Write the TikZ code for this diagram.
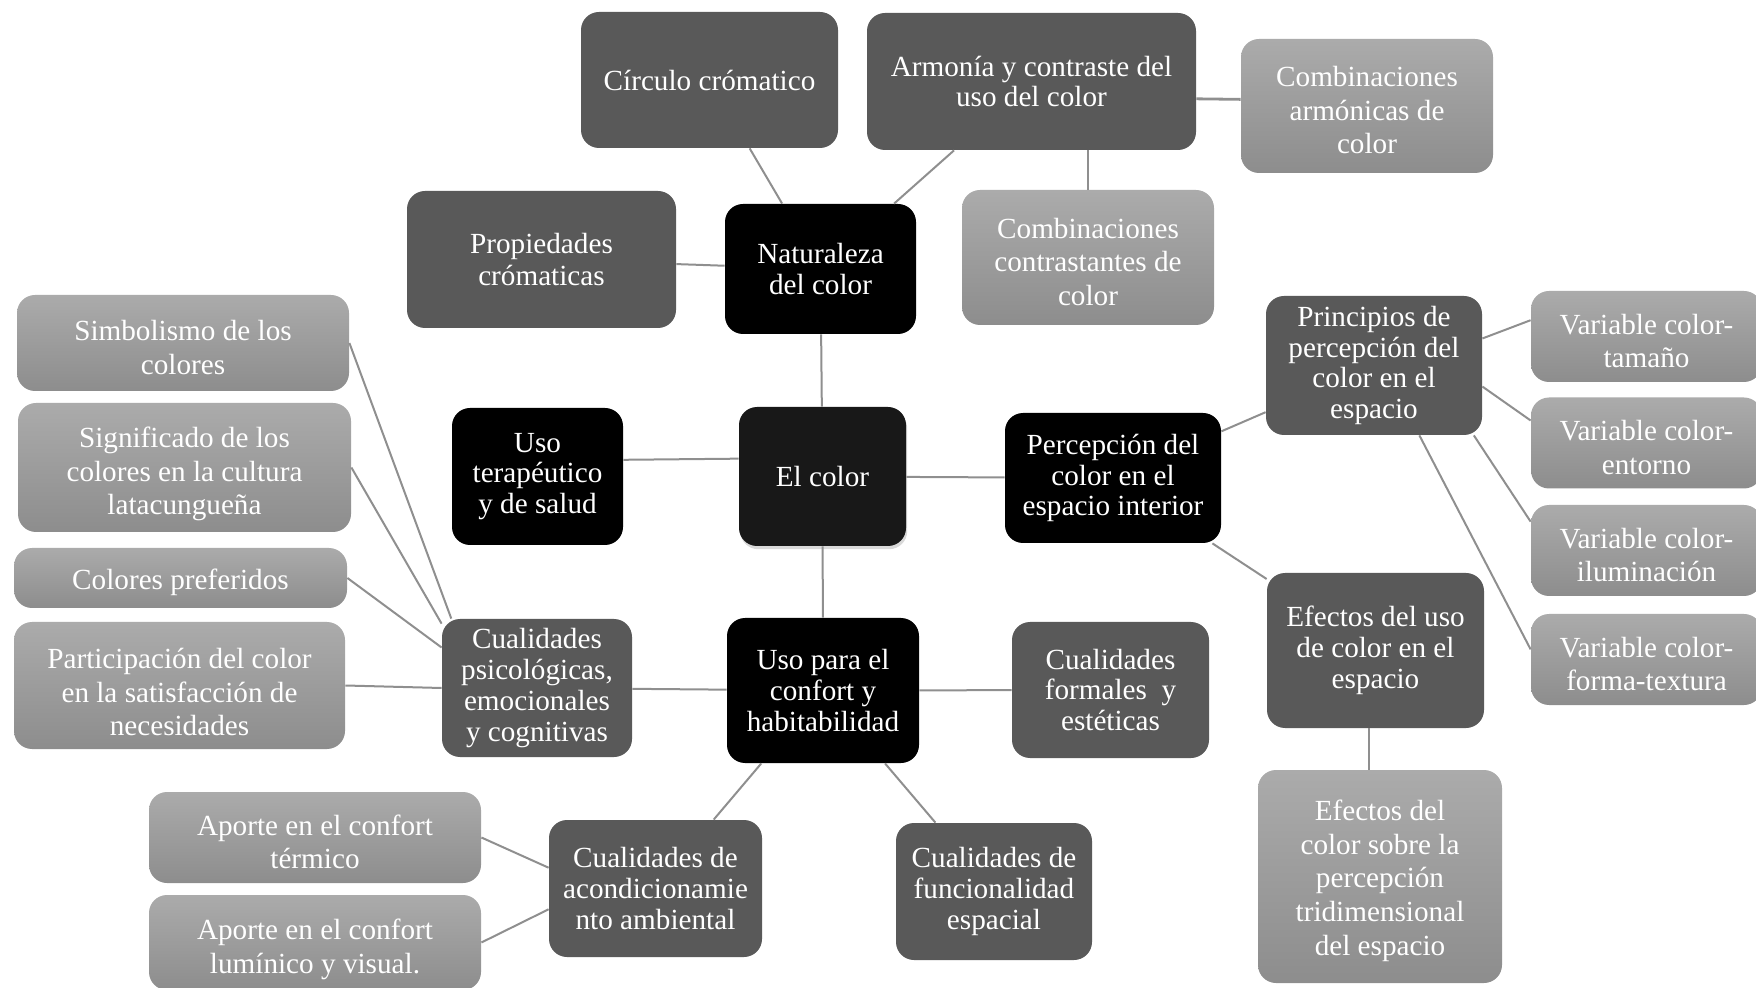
\documentclass[tikz,border=0pt]{standalone}
\usepackage{fontspec}
\setmainfont{Liberation Serif}
\usetikzlibrary{calc,shadows}

\definecolor{gris}{HTML}{595959}
\definecolor{claroA}{HTML}{ABABAB}
\definecolor{claroB}{HTML}{8D8D8D}
\definecolor{lineagris}{HTML}{8F8F8F}
\definecolor{casinegro}{HTML}{181818}

% baja un poco el texto de las cajas claras
\newcommand{\bj}[1][14.5pt]{\rule{0pt}{#1}}

\tikzset{
	caja/.style={rounded corners=9pt, align=center, text=white, inner sep=0pt,
		font=\fontsize{14.6}{15.4}\selectfont},
	tam/.style 2 args={minimum width=#1*0.5pt, minimum height=#2*0.5pt},
	negra/.style={caja, fill=black},
	oscura/.style={caja, fill=gris},
	clara/.style={caja, top color=claroA, bottom color=claroB,
		font=\fontsize{14.6}{16.8}\selectfont},
	linea/.style={draw=lineagris, line width=1pt},
}

\begin{document}
\begin{tikzpicture}[x=0.5pt,y=-0.5pt] % mapa del color
			\useasboundingbox (0,0) rectangle (1756,988);
			\clip (0,0) rectangle (1756,988);

			\node[negra, fill=casinegro, tam={167}{139},
				drop shadow={opacity=0.3, shadow xshift=0.6pt, shadow yshift=-1.6pt}]
				(ecolor) at (822.5,476.5) {El color};

			\node[oscura, tam={257}{136}] (circ) at (709.5,80) {Círculo crómatico};
			\node[oscura, tam={329}{137}] (arm) at (1031.5,81.5) {Armonía y contraste del\\uso del color};
			\node[clara, tam={252}{134}] (combarm) at (1367,106) {\bj Combinaciones\\armónicas de\\color};
			\node[clara, tam={252}{135}] (contr) at (1088,257.5) {\bj Combinaciones\\contrastantes de\\color};
			\node[oscura, tam={269}{137}, font=\fontsize{14.6}{16}\selectfont] (prop) at (541.5,259.5) {Propiedades\\crómaticas};
			\node[negra, tam={191}{130}] (nat) at (820.5,269) {Naturaleza\\del color};

			\node[negra, tam={171}{137}] (usoter) at (537.5,476.5) {Uso\\terapéutico\\y de salud};
			\node[negra, tam={216}{130}] (perc) at (1113,478) {Percepción del\\color en el\\espacio interior};
			\node[oscura, tam={216}{139}] (princ) at (1374,365.5) {Principios de\\percepción del\\color en el\\espacio};
			\node[clara, tam={231}{91}] (vtam) at (1646.5,336.5) {\bj Variable color-\\tamaño};
			\node[clara, tam={231}{91}] (vent) at (1646.5,443) {\bj Variable color-\\entorno};
			\node[clara, tam={231}{91}] (vilu) at (1646.5,550.5) {\bj Variable color-\\iluminación};
			\node[clara, tam={231}{91}] (vfor) at (1646.5,659.5) {\bj Variable color-\\forma-textura};
			\node[oscura, tam={217}{155}] (efuso) at (1375.5,650.5) {Efectos del uso\\de color en el\\espacio};
			\node[clara, tam={244}{213}] (efcol) at (1380,876.5) {\bj Efectos del\\color sobre la\\percepción\\tridimensional\\del espacio};

			\node[negra, tam={192}{145}] (conf) at (823,690.5) {Uso para el\\confort y\\habitabilidad};
			\node[oscura, tam={197}{136}] (form) at (1110.5,690) {Cualidades\\formales~ y\\estéticas};
			\node[oscura, tam={196}{137}] (func) at (994,891.5) {Cualidades de\\funcionalidad\\espacial};
			\node[oscura, tam={213}{137}] (acond) at (655.5,888.5) {Cualidades de\\acondicionamie\\nto ambiental};
			\node[oscura, tam={190}{138}] (psic) at (537,688) {Cualidades\\psicológicas,\\emocionales\\y cognitivas};

			\node[clara, tam={332}{91}] (term) at (315,837.5) {\bj Aporte en el confort\\térmico};
			\node[clara, tam={332}{95}] (lum) at (315,942.5) {\bj[17pt]Aporte en el confort\\lumínico y visual.};
			\node[clara, tam={331}{127}] (part) at (179.5,685.5) {\bj[17pt]Participación del color\\en la satisfacción de\\necesidades};
			\node[clara, tam={333}{60}] (pref) at (180.5,578) {\bj Colores preferidos};
			\node[clara, tam={333}{129}] (sig) at (184.5,467.5) {\bj[17pt]Significado de los\\colores en la cultura\\latacungueña};
			\node[clara, tam={332}{96}] (simb) at (183,343) {\bj Simbolismo de los\\colores};

			\draw[linea] (circ) -- (nat);
			\draw[linea] (arm) -- (nat);
			\draw[linea, line width=1.4pt] (arm.-6.4) -- (combarm.177.3);
			\draw[linea] (contr.north |- arm.south) -- (contr.north);
			\draw[linea] (prop) -- (nat);
			\draw[linea] (nat) -- (ecolor);
			\draw[linea] (usoter.11.6) -- (ecolor.168);
			\draw[linea] (ecolor) -- (perc);
			\draw[linea] (perc) -- (princ);
			\draw[linea] (princ.14.3) -- (vtam.172.2);
			\draw[linea] (princ.-11.3) -- (vent.169.9);
			\draw[linea] (princ.-35.7) -- (vilu.166.1);
			\draw[linea] (princ.-57.7) -- (vfor.175.2);
			\draw[linea] (perc) -- (efuso);
			\draw[linea] (efuso.-95) -- (efuso.-95 |- efcol.north);
			\draw[linea] (ecolor) -- (conf);
			\draw[linea] (psic) -- (conf);
			\draw[linea] (conf) -- (form);
			\draw[linea] (conf) -- (func);
			\draw[linea] (conf) -- (acond);
			\draw[linea] (simb.east) -- (psic.141);
			\draw[linea] (sig.east) -- (psic.146);
			\draw[linea] (pref.east) -- (psic.157);
			\draw[linea] (part.east) -- (psic.west);
			\draw[linea] (term.east) -- (acond.169);
			\draw[linea] (lum.east) -- (acond.191);
		\end{tikzpicture}
\end{document}
